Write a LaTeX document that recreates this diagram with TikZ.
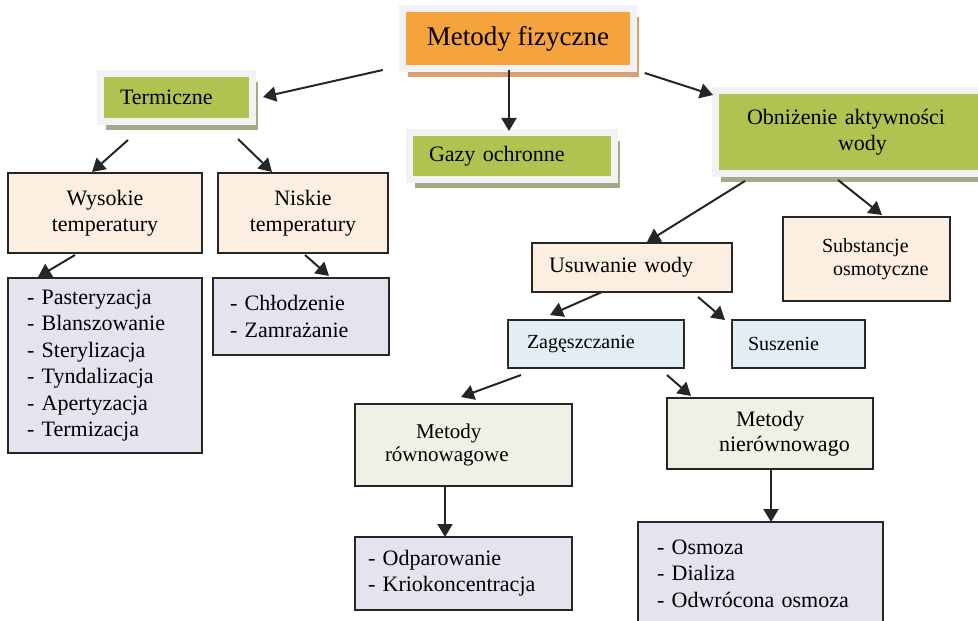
\documentclass[tikz,border=0pt]{standalone}
\usepackage{fontspec}
\setmainfont{Liberation Serif}
\usetikzlibrary{arrows.meta,shadows}
\definecolor{orangefill}{RGB}{245,163,60}
\definecolor{orangeshadow}{RGB}{214,163,112}
\definecolor{greenfill}{RGB}{176,195,80}
\definecolor{greenshadow}{RGB}{168,168,134}
\definecolor{framegray}{RGB}{242,242,245}
\definecolor{peach}{RGB}{252,239,225}
\definecolor{lavender}{RGB}{230,227,239}
\definecolor{paleblue}{RGB}{227,238,244}
\definecolor{palebeige}{RGB}{240,240,230}
\definecolor{boxline}{RGB}{38,38,38}
\newcommand{\fsz}[2]{\fontsize{#1}{#2}\selectfont}
\begin{document}
\begin{tikzpicture}[x=0.5pt,y=-0.5pt,
    mainbox/.style={draw=framegray,line width=3.5pt,outer sep=0pt,inner ysep=0pt,
        drop shadow={shadow xshift=2.75pt,shadow yshift=-4.25pt,fill=#1,opacity=1}},
    subbox/.style={draw=boxline,line width=0.8pt,outer sep=0pt,inner ysep=0pt,fill=#1},
    arr/.style={-{Triangle[length=6.5pt,width=7.5pt]},line width=1pt,draw=boxline}]
\useasboundingbox (0,0) rectangle (978,620);

% Top level
\node[mainbox=orangeshadow,fill=orangefill,minimum width=115.25pt,minimum height=29.75pt,
    font=\fsz{13.5}{16}] (mf) at (518,38.75) {Metody fizyczne};

% Second level
\node[mainbox=greenshadow,fill=greenfill,minimum width=76pt,minimum height=24pt,
    inner xsep=9.75pt,text width=56.5pt,align=left,font=\fsz{11}{13}] (term) at (176.5,97.5) {Termiczne};
\node[mainbox=greenshadow,fill=greenfill,minimum width=102.5pt,minimum height=23.5pt,
    inner xsep=9.75pt,text width=83pt,align=left,font=\fsz{11}{13}] (gaz) at (512,156) {Gazy ochronne};
\node[mainbox=greenshadow,fill=greenfill,minimum width=133pt,minimum height=41.5pt,
    inner xsep=4pt,text width=125pt,align=left,font=\fsz{11}{13}] (obn) at (848.5,132)
    {\hspace*{11.75pt}Obniżenie aktywności\\\hspace*{57.25pt}wody};

% Thermal branch
\node[subbox=peach,minimum width=97pt,minimum height=40pt,align=center,font=\fsz{11}{13}]
    (wys) at (105,213) {Wysokie\\temperatury};
\node[subbox=peach,minimum width=85pt,minimum height=40pt,align=center,font=\fsz{11}{13}]
    (nis) at (303,213) {Niskie\\temperatury};
\node[subbox=lavender,minimum width=97pt,minimum height=87.5pt,inner xsep=9.5pt,text width=78pt,
    align=left,font=\fsz{11}{13.2}] (hot) at (105,365.5)
    {- Pasteryzacja\\- Blanszowanie\\- Sterylizacja\\- Tyndalizacja\\- Apertyzacja\\- Termizacja};
\node[subbox=lavender,minimum width=88pt,minimum height=38.5pt,inner xsep=8.5pt,text width=71pt,
    align=left,font=\fsz{11}{13.2}] (cold) at (301,316.5) {- Chłodzenie\\- Zamrażanie};

% Water activity branch
\node[subbox=peach,minimum width=100pt,minimum height=24.5pt,inner xsep=8.5pt,text width=83pt,
    align=left,font=\fsz{11}{13}] (usu) at (632,267.5) {Usuwanie wody};
\node[subbox=peach,minimum width=83.5pt,minimum height=42pt,inner xsep=4pt,text width=75.5pt,
    align=left,font=\fsz{10}{11.5}] (sub) at (866.5,259)
    {\hspace*{15.5pt}Substancje\\\hspace*{21pt}osmotyczne};
\node[subbox=paleblue,minimum width=88pt,minimum height=24pt,inner xsep=9.5pt,text width=69pt,
    align=left,font=\fsz{10}{12}] (zag) at (596,344) {Zagęszczanie};
\node[subbox=paleblue,minimum width=66.5pt,minimum height=24pt,inner xsep=8pt,text width=50.5pt,
    align=left,font=\fsz{10}{12}] (sus) at (798.5,344) {Suszenie};
\node[subbox=palebeige,minimum width=108.5pt,minimum height=41pt,inner xsep=4pt,text width=100.5pt,
    align=left,font=\fsz{10.5}{11.5}] (row) at (463.5,445)
    {\hspace*{26.5pt}Metody\\\hspace*{11pt}równowagowe};
\node[subbox=palebeige,minimum width=103pt,minimum height=35.5pt,inner xsep=4pt,text width=95pt,
    align=left,font=\fsz{11}{12.5}] (nier) at (770,433.5)
    {\hspace*{30.5pt}Metody\\\hspace*{22pt}nierównowago};
\node[subbox=lavender,minimum width=108.5pt,minimum height=36.5pt,inner xsep=6.5pt,text width=95.5pt,
    align=left,font=\fsz{11}{13.2}] (odp) at (463.5,573.5) {- Odparowanie\\- Kriokoncentracja};
\node[subbox=lavender,minimum width=122.5pt,minimum height=51.5pt,inner xsep=9.5pt,text width=103.5pt,
    align=left,font=\fsz{11}{13.2}] (osm) at (760.5,573.5) {- Osmoza\\- Dializa\\- Odwrócona osmoza};

% Draw arrows
\draw[arr] ([xshift=-10pt,yshift=-0.75pt]mf.south west) -- ([xshift=5.25pt,yshift=0.25pt]term.east);
\draw[arr] ([xshift=-4.5pt,yshift=-0.75pt]mf.south) -- ([xshift=-1.5pt,yshift=0.75pt]gaz.north);
\draw[arr] ([xshift=5.75pt,yshift=-2.25pt]mf.south east) -- ([xshift=-1.25pt,yshift=-2.25pt]obn.north west);
\draw[arr] ([xshift=13.75pt,yshift=-9.25pt]term.south west) -- ([xshift=-6.5pt,yshift=0.5pt]wys.north);
\draw[arr] ([xshift=-7.25pt,yshift=-8.75pt]term.south east) -- ([xshift=-15.5pt,yshift=0.5pt]nis.north);
\draw[arr] ([xshift=-15pt,yshift=-1pt]wys.south) -- ([xshift=15pt,yshift=0.5pt]hot.north west);
\draw[arr] ([xshift=1pt,yshift=-1pt]nis.south) -- ([xshift=14pt,yshift=1pt]cold.north);
\draw[arr] ([xshift=14.75pt,yshift=-3.75pt]obn.south west) -- ([xshift=7.5pt,yshift=0.5pt]usu.north);
\draw[arr] ([xshift=-5.25pt,yshift=-3.25pt]obn.south) -- ([xshift=7.75pt,yshift=1pt]sub.north);
\draw[arr] ([xshift=-15pt]usu.south) -- ([xshift=-23pt,yshift=2.5pt]zag.north);
\draw[arr] ([xshift=-17pt,yshift=-2.5pt]usu.south east) -- ([xshift=-3.5pt]sus.north west);
\draw[arr] ([xshift=-37.5pt,yshift=-3.5pt]zag.south) -- ([xshift=-1.25pt,yshift=3.5pt]row.north);
\draw[arr] ([xshift=-8.5pt,yshift=-3.5pt]zag.south east) -- ([xshift=12pt,yshift=1pt]nier.north west);
\draw[arr] ([xshift=-9.25pt]row.south) -- ([xshift=-9.25pt]odp.north);
\draw[arr] ([xshift=0.5pt]nier.south) -- ([xshift=5.25pt]osm.north);

\end{tikzpicture}
\end{document}
